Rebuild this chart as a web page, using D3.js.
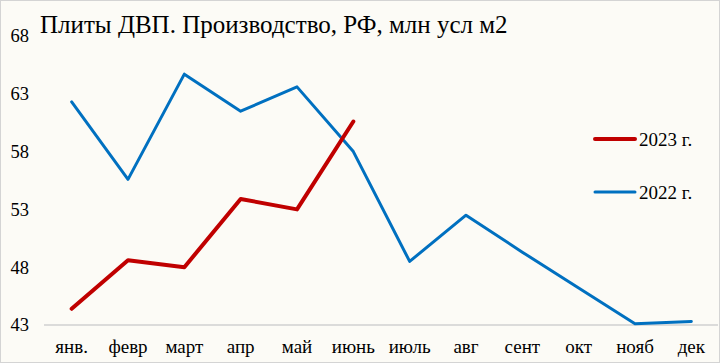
<!DOCTYPE html>
<html><head><meta charset="utf-8">
<script src="https://cdn.jsdelivr.net/npm/d3@7"></script>
<style>
html,body{margin:0;padding:0;background:#fff;}
svg{display:block;}
</style></head>
<body>
<svg id="chart" width="720" height="363"></svg>
<script>
const months = ["янв.","февр","март","апр","май","июнь","июль","авг","сент","окт","нояб","дек"];
const values2022 = [62.3,55.6,64.7,61.5,63.6,58.0,48.5,52.5,49.3,46.2,43.1,43.3];
const values2023 = [44.4,48.6,48.0,53.9,53.0,60.6];
const yTicks = [43,48,53,58,63,68];
const seriesNames = ["2023 г.","2022 г."];
const title = "Плиты ДВП. Производство, РФ, млн усл м2";

const W = 720, H = 363;
const svg = d3.select("#chart");
const font = "'Liberation Serif', 'DejaVu Serif', serif";

svg.append("rect").attr("x",0.5).attr("y",0.5).attr("width",W-1).attr("height",H-1)
  .attr("fill","#fcfbf6").attr("stroke","#d4d4d4").attr("stroke-width",1);

const x = d3.scaleBand().domain(months).range([43.5,719.5]);
const y = d3.scaleLinear().domain([43,68]).range([325,36]);
const cx = d => x(d) + x.bandwidth()/2;

// baseline
svg.append("line").attr("x1",44).attr("x2",718).attr("y1",y(43)).attr("y2",y(43))
  .attr("stroke","#d0d0d0").attr("stroke-width",1.5);

// y axis labels
const yAxis = d3.axisLeft(y).tickValues(yTicks).tickSize(0).tickPadding(0);
const gy = svg.append("g").attr("transform","translate(29,0)").call(yAxis);
gy.select(".domain").remove();
gy.selectAll("text").attr("font-family",font).attr("font-size",18.5).attr("fill","#000");

// x axis labels
const xAxis = d3.axisBottom(x).tickSize(0).tickPadding(0);
const gx = svg.append("g").attr("transform","translate(0,339)").call(xAxis);
gx.select(".domain").remove();
gx.selectAll("text").attr("font-family",font).attr("font-size",19).attr("fill","#000");

const line = d3.line().x((d,i)=>cx(months[i])).y(d=>y(d));

svg.append("path").datum(values2022).attr("d",line).attr("fill","none")
  .attr("stroke","#0070c0").attr("stroke-width",3).attr("stroke-linejoin","round").attr("stroke-linecap","round");
svg.append("path").datum(values2023).attr("d",line).attr("fill","none")
  .attr("stroke","#c00000").attr("stroke-width",4).attr("stroke-linejoin","round").attr("stroke-linecap","round");

// title
svg.append("text").attr("x",40).attr("y",33).text(title)
  .attr("font-family",font).attr("font-size",25).attr("fill","#000");

// legend
const legColors = ["#c00000","#0070c0"];
const legW = [4,3];
const legY = [139,192];
seriesNames.forEach((n,i)=>{
  svg.append("line").attr("x1",595).attr("x2",635).attr("y1",legY[i]).attr("y2",legY[i])
    .attr("stroke",legColors[i]).attr("stroke-width",legW[i]).attr("stroke-linecap","round");
  svg.append("text").attr("x",639).attr("y",legY[i]+7).text(n)
    .attr("font-family",font).attr("font-size",19).attr("fill","#000");
});
</script>
</body></html>
